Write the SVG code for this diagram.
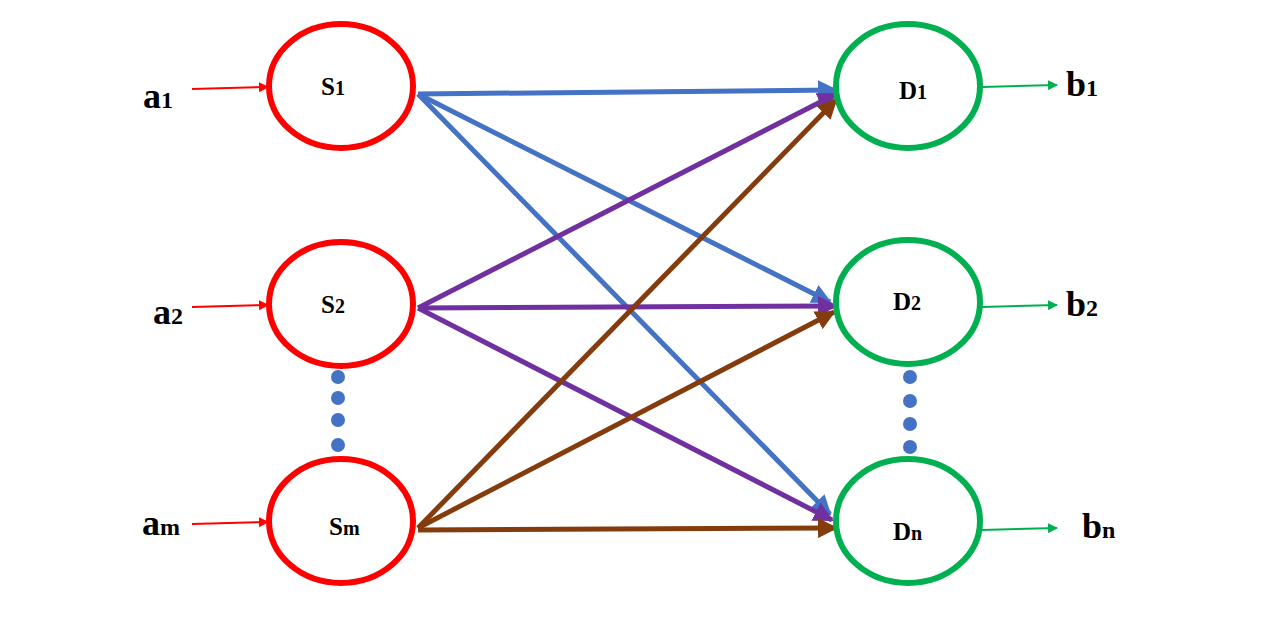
<svg xmlns="http://www.w3.org/2000/svg" width="1280" height="626" viewBox="0 0 1280 626">
<style>
.s{fill:#fff;stroke:#ff0000;stroke-width:6}
.d{fill:#fff;stroke:#00b050;stroke-width:6}
text{font-family:"Liberation Serif",serif;font-weight:bold;fill:#000}
.n{font-size:25px}
.l{font-size:36px}
.b{stroke:#4472c4;stroke-width:5;fill:none}
.p{stroke:#7030a0;stroke-width:5;fill:none}
.r{stroke:#843c0c;stroke-width:5;fill:none}
.in{stroke:#ff0000;stroke-width:2;fill:none}
.out{stroke:#00b050;stroke-width:2;fill:none}
.dot{fill:#4472c4}
</style>
<defs>
<marker id="mb" viewBox="0 0 10 10" refX="9" refY="5" markerWidth="4" markerHeight="4" orient="auto" markerUnits="strokeWidth"><path d="M0,0L10,5L0,10z" fill="#4472c4"/></marker>
<marker id="mp" viewBox="0 0 10 10" refX="9" refY="5" markerWidth="4" markerHeight="4" orient="auto" markerUnits="strokeWidth"><path d="M0,0L10,5L0,10z" fill="#7030a0"/></marker>
<marker id="mr" viewBox="0 0 10 10" refX="9" refY="5" markerWidth="4" markerHeight="4" orient="auto" markerUnits="strokeWidth"><path d="M0,0L10,5L0,10z" fill="#843c0c"/></marker>
<marker id="mi" viewBox="0 0 10 10" refX="9" refY="5" markerWidth="5" markerHeight="5" orient="auto" markerUnits="strokeWidth"><path d="M0,0L10,5L0,10z" fill="#ff0000"/></marker>
<marker id="mo" viewBox="0 0 10 10" refX="9" refY="5" markerWidth="5" markerHeight="5" orient="auto" markerUnits="strokeWidth"><path d="M0,0L10,5L0,10z" fill="#00b050"/></marker>
</defs>
<g id="connectors">
<line class="in" x1="192" y1="89" x2="268" y2="87" marker-end="url(#mi)"/>
<line class="in" x1="192" y1="307" x2="268" y2="305" marker-end="url(#mi)"/>
<line class="in" x1="192" y1="524" x2="268" y2="522" marker-end="url(#mi)"/>
<line class="out" x1="982" y1="87" x2="1057" y2="85" marker-end="url(#mo)"/>
<line class="out" x1="982" y1="307" x2="1057" y2="305" marker-end="url(#mo)"/>
<line class="out" x1="982" y1="530" x2="1057" y2="528" marker-end="url(#mo)"/>
<line class="b" x1="418" y1="94" x2="836" y2="90" marker-end="url(#mb)"/>
<line class="b" x1="418" y1="94" x2="830" y2="302" marker-end="url(#mb)"/>
<line class="b" x1="418" y1="94" x2="830" y2="514" marker-end="url(#mb)"/>
<line class="p" x1="418" y1="308" x2="836" y2="94" marker-end="url(#mp)"/>
<line class="p" x1="418" y1="308" x2="836" y2="306" marker-end="url(#mp)"/>
<line class="p" x1="418" y1="308" x2="832" y2="520" marker-end="url(#mp)"/>
<line class="r" x1="418" y1="528" x2="836" y2="100" marker-end="url(#mr)"/>
<line class="r" x1="418" y1="528" x2="834" y2="312" marker-end="url(#mr)"/>
<line class="r" x1="418" y1="530" x2="836" y2="528" marker-end="url(#mr)"/>
</g>
<g id="S1"><ellipse class="s" cx="341" cy="86" rx="72" ry="62"/><text class="n" x="321" y="95">S<tspan font-size="20">1</tspan></text></g>
<g id="S2"><ellipse class="s" cx="341" cy="304" rx="72" ry="62"/><text class="n" x="321" y="313">S<tspan font-size="20">2</tspan></text></g>
<g id="Sm"><ellipse class="s" cx="341" cy="521" rx="72" ry="62"/><text class="n" x="329" y="535">S<tspan font-size="20">m</tspan></text></g>
<g id="D1"><ellipse class="d" cx="908" cy="86" rx="72" ry="62"/><text class="n" x="899" y="99">D<tspan font-size="20">1</tspan></text></g>
<g id="D2"><ellipse class="d" cx="908" cy="302" rx="72" ry="62"/><text class="n" x="893" y="310">D<tspan font-size="20">2</tspan></text></g>
<g id="Dn"><ellipse class="d" cx="908" cy="521" rx="72" ry="62"/><text class="n" x="893" y="540">D<tspan font-size="20">n</tspan></text></g>
<g id="dotsS"><circle class="dot" cx="338" cy="377" r="7"/><circle class="dot" cx="338" cy="398" r="7"/><circle class="dot" cx="338" cy="420" r="7"/><circle class="dot" cx="338" cy="445" r="7"/></g>
<g id="dotsD"><circle class="dot" cx="910" cy="377" r="7"/><circle class="dot" cx="910" cy="401" r="7"/><circle class="dot" cx="910" cy="424" r="7"/><circle class="dot" cx="910" cy="447" r="7"/></g>
<g id="labels">
<text class="l" x="143" y="108">a<tspan font-size="24">1</tspan></text>
<text class="l" x="153" y="324">a<tspan font-size="24">2</tspan></text>
<text class="l" x="142" y="535">a<tspan font-size="24">m</tspan></text>
<text class="l" x="1066" y="96">b<tspan font-size="24">1</tspan></text>
<text class="l" x="1066" y="316">b<tspan font-size="24">2</tspan></text>
<text class="l" x="1082" y="538">b<tspan font-size="24">n</tspan></text>
</g>
</svg>
